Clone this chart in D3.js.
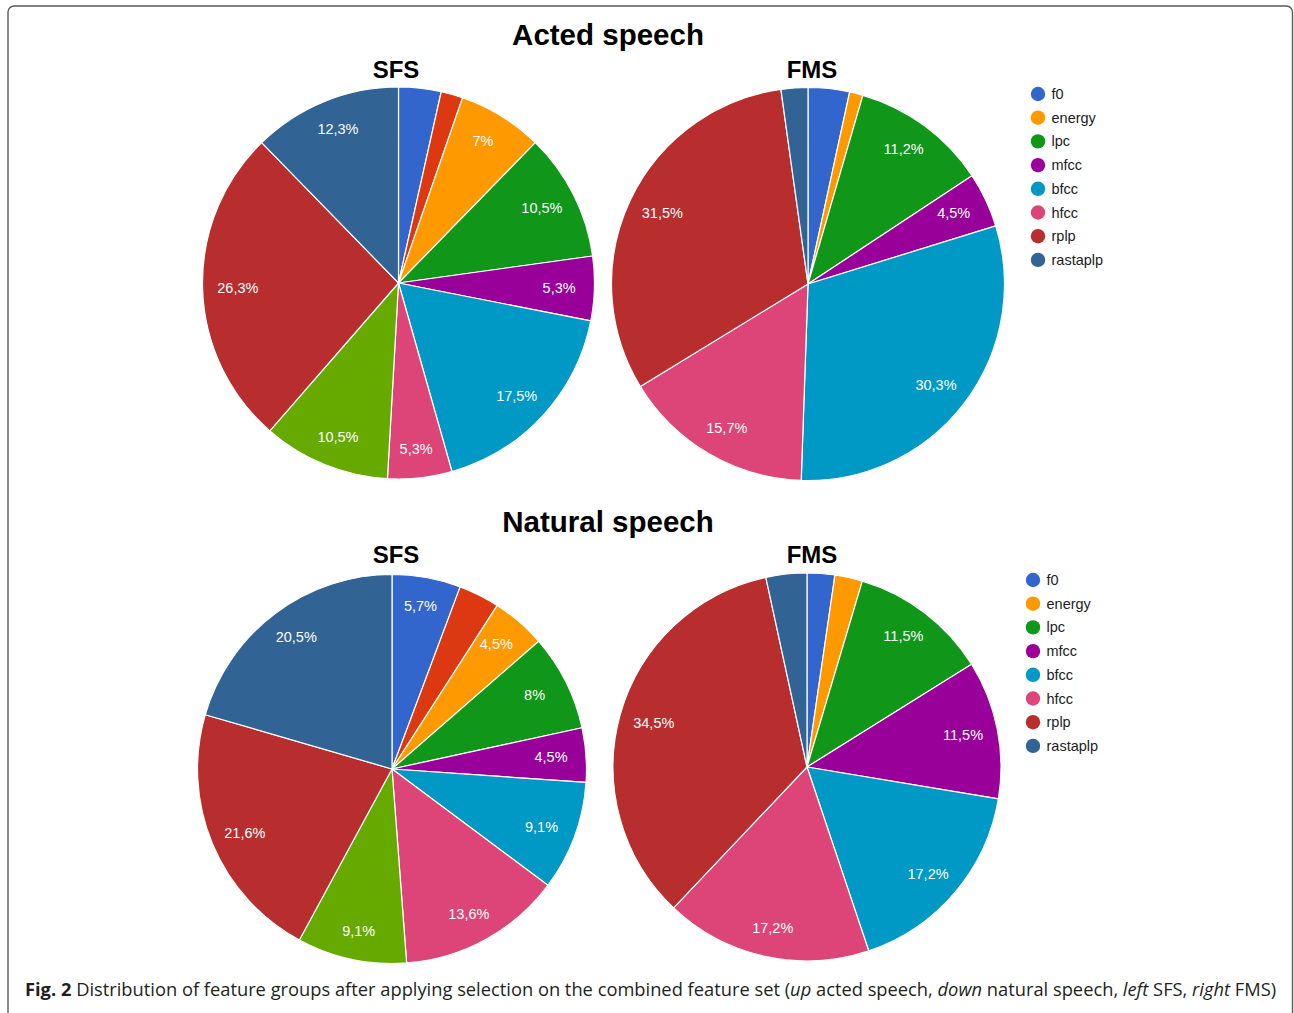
<!DOCTYPE html>
<html><head><meta charset="utf-8">
<script src="https://cdn.jsdelivr.net/npm/d3@7"></script>
<style>body{margin:0;background:#fff}svg{display:block}</style>
</head><body>
<svg id="chart" width="1294" height="1013"></svg>
<script>
// ---------- data ----------
const sfsGroups = ["f0", "other group A", "energy", "lpc", "mfcc", "bfcc", "hfcc", "other group B", "rplp", "rastaplp"];
const fmsGroups = ["f0", "energy", "lpc", "mfcc", "bfcc", "hfcc", "rplp", "rastaplp"];
const actedSFS   = [3.5, 1.8, 7, 10.5, 5.3, 17.5, 5.3, 10.5, 26.3, 12.3];
const actedFMS   = [3.4, 1.1, 11.2, 4.5, 30.3, 15.7, 31.5, 2.2];
const naturalSFS = [5.7, 3.4, 4.5, 8, 4.5, 9.1, 13.6, 9.1, 21.6, 20.5];
const naturalFMS = [2.3, 2.3, 11.5, 11.5, 17.2, 17.2, 34.5, 3.4];
const sectionTitles = ["Acted speech", "Natural speech"];
const methodTitles = ["SFS", "FMS"];
const legendLabels = fmsGroups;

// ---------- styles ----------
const palette = ["#3366cc", "#dc3912", "#ff9900", "#109618", "#990099", "#0099c6", "#dd4477", "#66aa00", "#b82e2e", "#316395"];
const color = d3.scaleOrdinal().domain(sfsGroups).range(palette);
const FONT = "'Liberation Sans', Arial, sans-serif";

const svg = d3.select("#chart");

// frame
svg.append("rect").attr("x", 8).attr("y", 6).attr("width", 1284.5).attr("height", 1040)
  .attr("rx", 6).attr("fill", "none").attr("stroke", "#5a5a5a").attr("stroke-width", 1.4);

const sections = [
  { title: sectionTitles[0], tx: 608, ty: 45, legend: { x: 1038, y: 94 },
    pies: [ { title: methodTitles[0], groups: sfsGroups, values: actedSFS, cx: 398.5, cy: 283, r: 196, tx: 396, ty: 78 },
            { title: methodTitles[1], groups: fmsGroups, values: actedFMS, cx: 808, cy: 284, r: 196.5, tx: 812, ty: 78 } ] },
  { title: sectionTitles[1], tx: 608, ty: 532, legend: { x: 1033, y: 580 },
    pies: [ { title: methodTitles[0], groups: sfsGroups, values: naturalSFS, cx: 392, cy: 769, r: 194.5, tx: 396, ty: 563 },
            { title: methodTitles[1], groups: fmsGroups, values: naturalFMS, cx: 807, cy: 767, r: 194, tx: 812, ty: 563 } ] }
];

const locale = d3.formatLocale({ decimal: ",", thousands: ".", grouping: [3], currency: ["", "€"] });
const fmt = locale.format(".1~f");
const pie = d3.pie().sort(null).value(d => d.v);

sections.forEach(sec => {
  svg.append("text").attr("x", sec.tx).attr("y", sec.ty).attr("text-anchor", "middle")
    .style("font-family", FONT).style("font-weight", "bold").style("font-size", "29.5px")
    .attr("fill", "#000").text(sec.title);

  sec.pies.forEach(p => {
    svg.append("text").attr("x", p.tx).attr("y", p.ty).attr("text-anchor", "middle")
      .style("font-family", FONT).style("font-weight", "bold").style("font-size", "24px")
      .attr("fill", "#000").text(p.title);

    const data = p.groups.map((g, i) => ({ g, v: p.values[i] }));
    const arcs = pie(data);
    const arc = d3.arc().innerRadius(0).outerRadius(p.r);
    const g = svg.append("g").attr("transform", `translate(${p.cx},${p.cy})`);
    g.selectAll("path").data(arcs).join("path")
      .attr("d", arc).attr("fill", d => color(d.data.g))
      .attr("stroke", "#fff").attr("stroke-width", 1.2).attr("stroke-linejoin", "round");

    const lr = 0.82 * p.r;
    g.selectAll("text").data(arcs.filter(d => (d.endAngle - d.startAngle) / (2 * Math.PI) >= 0.04))
      .join("text")
      .attr("x", d => { const a = (d.startAngle + d.endAngle) / 2; return lr * Math.sin(a); })
      .attr("y", d => { const a = (d.startAngle + d.endAngle) / 2; return -(lr + 6) * Math.cos(a); })
      .attr("text-anchor", "middle").attr("dominant-baseline", "central")
      .style("font-family", FONT).style("font-size", "14.5px").attr("fill", "#fff")
      .text(d => fmt((d.endAngle - d.startAngle) / (2 * Math.PI) * 100) + "%");
  });

  // legend
  const step = 23.7;
  const lg = svg.append("g");
  legendLabels.forEach((name, i) => {
    const y = sec.legend.y + i * step;
    lg.append("circle").attr("cx", sec.legend.x).attr("cy", y).attr("r", 7.2).attr("fill", color(name));
    lg.append("text").attr("x", sec.legend.x + 13.5).attr("y", y).attr("dominant-baseline", "central")
      .style("font-family", FONT).style("font-size", "14.5px").attr("fill", "#222").text(name);
  });
});

// caption
const captionParts = [
  ["Fig. 2", "bold"],
  [" Distribution of feature groups after applying selection on the combined feature set (", ""],
  ["up", "italic"], [" acted speech, ", ""], ["down", "italic"], [" natural speech, ", ""],
  ["left", "italic"], [" SFS, ", ""], ["right", "italic"], [" FMS)", ""]
];
const cap = svg.append("text").attr("x", 25).attr("y", 996)
  .style("font-family", "'Open Sans', 'Noto Sans', sans-serif").style("font-size", "18.5px")
  .style("white-space", "pre").attr("fill", "#231f20");
captionParts.forEach(([t, s]) => {
  const ts = cap.append("tspan").text(t);
  if (s === "bold") ts.style("font-weight", "bold");
  if (s === "italic") ts.style("font-style", "italic");
});
const w = cap.node().getComputedTextLength();
const sx = 1252 / w;
cap.attr("transform", `translate(25,0) scale(${sx},1) translate(-25,0)`);
</script>
</body></html>
